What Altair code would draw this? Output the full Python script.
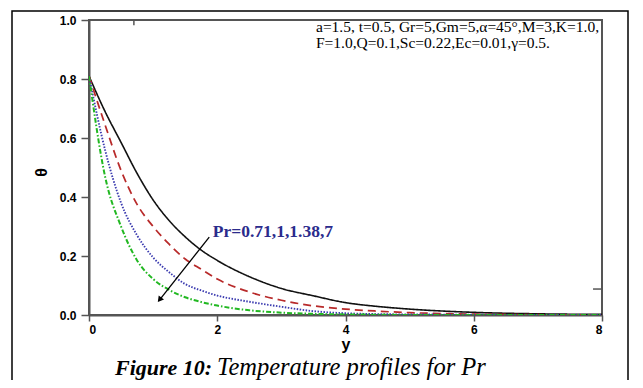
import altair as alt
import pandas as pd

# ---- data ----
y_vals = [0, 0.25, 0.5, 0.75, 1.0, 1.25, 1.5, 1.75, 2.0, 2.5, 3.0, 3.5, 4.0, 4.5, 5.0, 6.0, 7.0, 8.0]
theta_pr071 = [0.81, 0.69, 0.585, 0.48, 0.39, 0.32, 0.265, 0.22, 0.185, 0.13, 0.09, 0.065, 0.042, 0.029, 0.02, 0.009, 0.004, 0.002]
theta_pr1 = [0.81, 0.645, 0.49, 0.375, 0.30, 0.24, 0.19, 0.155, 0.122, 0.078, 0.05, 0.031, 0.02, 0.013, 0.008, 0.003, 0.001, 0.0]
theta_pr138 = [0.81, 0.56, 0.38, 0.27, 0.195, 0.145, 0.105, 0.083, 0.066, 0.045, 0.028, 0.013, 0.006, 0.003, 0.002, 0.001, 0.0, 0.0]
theta_pr7 = [0.81, 0.47, 0.30, 0.185, 0.122, 0.085, 0.06, 0.044, 0.032, 0.016, 0.008, 0.004, 0.002, 0.001, 0.0, 0.0, 0.0, 0.0]

series_names = ["Pr=0.71", "Pr=1", "Pr=1.38", "Pr=7"]
series_colors = ["#111111", "#b82a2a", "#3c3cb0", "#22b822"]
series_dash = [[1, 0], [8, 5], [1.5, 1.5], [5, 2, 1.5, 2]]
series_width = [1.6, 2.0, 1.6, 1.6]

x_ticks = [0, 2, 4, 6, 8]
y_ticks = [0.0, 0.2, 0.4, 0.6, 0.8, 1.0]

param_line1 = "a=1.5, t=0.5, Gr=5,Gm=5,\u03b1=45\u00b0,M=3,K=1.0,"
param_line2 = "F=1.0,Q=0.1,Sc=0.22,Ec=0.01,\u03b3=0.5."
pr_label = "Pr=0.71,1,1.38,7"
caption_bold = "Figure 10:"
caption_rest = "Temperature profiles for  Pr"

# arrow (data coordinates)
arrow_start = (1.875, 0.264)
arrow_end = (1.11, 0.054)

# stray tick marks on the frame (data coordinates)
top_tick = (0.7, 1.0, 0.982)
right_tick = (7.86, 8.0, 0.088)

rows = []
for name, vals in zip(series_names, [theta_pr071, theta_pr1, theta_pr138, theta_pr7]):
    for yv, tv in zip(y_vals, vals):
        rows.append({"y": yv, "theta": tv, "series": name})
df = pd.DataFrame(rows)

W, H = 513, 295

xscale = alt.Scale(domain=[0, 8], nice=False, zero=False)
yscale = alt.Scale(domain=[0, 1], nice=False)

lines = alt.Chart(df).mark_line(interpolate="monotone", clip=True).encode(
    x=alt.X("y:Q", scale=xscale, axis=alt.Axis(values=x_ticks, format="d", title="y",
                                               tickSize=6, labelPadding=3, titlePadding=1,
                                               titleFontSize=16, titleFont="Liberation Sans",
                                               titleFontWeight="bold")),
    y=alt.Y("theta:Q", scale=yscale, axis=alt.Axis(values=y_ticks, format=".1f", title="\u03b8",
                                                   tickSize=8, labelPadding=5,
                                                   titleFontSize=16, titleFont="Liberation Sans",
                                                   titleFontWeight="bold", titleX=-48, titleY=152,
                                                   titleAlign="center", titleBaseline="middle")),
    color=alt.Color("series:N", scale=alt.Scale(domain=series_names, range=series_colors), legend=None),
    strokeDash=alt.StrokeDash("series:N", scale=alt.Scale(domain=series_names, range=series_dash), legend=None),
    strokeWidth=alt.StrokeWidth("series:N", scale=alt.Scale(domain=series_names, range=series_width), legend=None),
)

arrow_df = pd.DataFrame([{"x": arrow_start[0], "y": arrow_start[1], "x2": arrow_end[0], "y2": arrow_end[1]}])
arrow = alt.Chart(arrow_df).mark_rule(color="black", strokeWidth=1.3).encode(
    x=alt.X("x:Q", scale=xscale), y=alt.Y("y:Q", scale=yscale), x2="x2:Q", y2="y2:Q"
)
head_df = pd.DataFrame([{"x": arrow_end[0], "y": arrow_end[1]}])
head = alt.Chart(head_df).mark_point(shape="triangle", filled=True, color="black", size=45,
                                     angle=218, opacity=1).encode(
    x=alt.X("x:Q", scale=xscale), y=alt.Y("y:Q", scale=yscale)
)

stray_df = pd.DataFrame([
    {"x": top_tick[0], "x2": top_tick[0], "y": top_tick[1], "y2": top_tick[2]},
    {"x": right_tick[0], "x2": right_tick[1], "y": right_tick[2], "y2": right_tick[2]},
])
stray = alt.Chart(stray_df).mark_rule(color="#555555", strokeWidth=1.5).encode(
    x=alt.X("x:Q", scale=xscale), x2="x2:Q", y=alt.Y("y:Q", scale=yscale), y2="y2:Q"
)

pr_df = pd.DataFrame([{"x": 1.93, "y": 0.264, "t": pr_label}])
pr_text = alt.Chart(pr_df).mark_text(align="left", baseline="alphabetic", font="Liberation Serif",
                                     fontWeight="bold", fontSize=17.5, color="#2b2b8c").encode(
    x=alt.X("x:Q", scale=xscale), y=alt.Y("y:Q", scale=yscale), text="t:N"
)

param_df = pd.DataFrame([{"x": 3.54, "y": 0.958, "t": param_line1},
                         {"x": 3.54, "y": 0.905, "t": param_line2}])
param_text = alt.Chart(param_df).mark_text(align="left", baseline="alphabetic", font="Liberation Serif",
                                           fontSize=15.5, color="black").encode(
    x=alt.X("x:Q", scale=xscale), y=alt.Y("y:Q", scale=yscale), text="t:N"
)

frame = alt.Chart(head_df).mark_rect(fill=None, stroke="black", strokeWidth=1.5).encode(
    x=alt.value(-77), x2=alt.value(539), y=alt.value(-9), y2=alt.value(380)
)

cap_df = pd.DataFrame([{"a": caption_bold, "b": caption_rest}])
cap1 = alt.Chart(cap_df).mark_text(align="left", baseline="alphabetic", font="Liberation Serif",
                                   fontWeight="bold", fontStyle="italic", fontSize=22, color="black").encode(
    x=alt.value(26), y=alt.value(355), text="a:N"
)
cap2 = alt.Chart(cap_df).mark_text(align="left", baseline="alphabetic", font="Liberation Serif",
                                   fontStyle="italic", fontSize=24.5, color="black").encode(
    x=alt.value(128), y=alt.value(355), text="b:N"
)

chart = alt.layer(frame, lines, stray, arrow, head, pr_text, param_text, cap1, cap2).properties(
    width=W, height=H,
    autosize=alt.AutoSizeParams(type="none"),
    padding={"left": 81, "top": 12, "right": 33, "bottom": 65},
    background="white",
).configure_view(stroke="#555555", strokeWidth=2).configure_axis(
    grid=False, domainColor="#555555", domainWidth=2, tickColor="#555555", tickWidth=1.5,
    labelFont="Liberation Sans", labelFontWeight="bold", labelFontSize=12, labelColor="black",
    titleColor="black",
)

chart.save("out.html", embed_options={"renderer": "svg", "actions": False})
